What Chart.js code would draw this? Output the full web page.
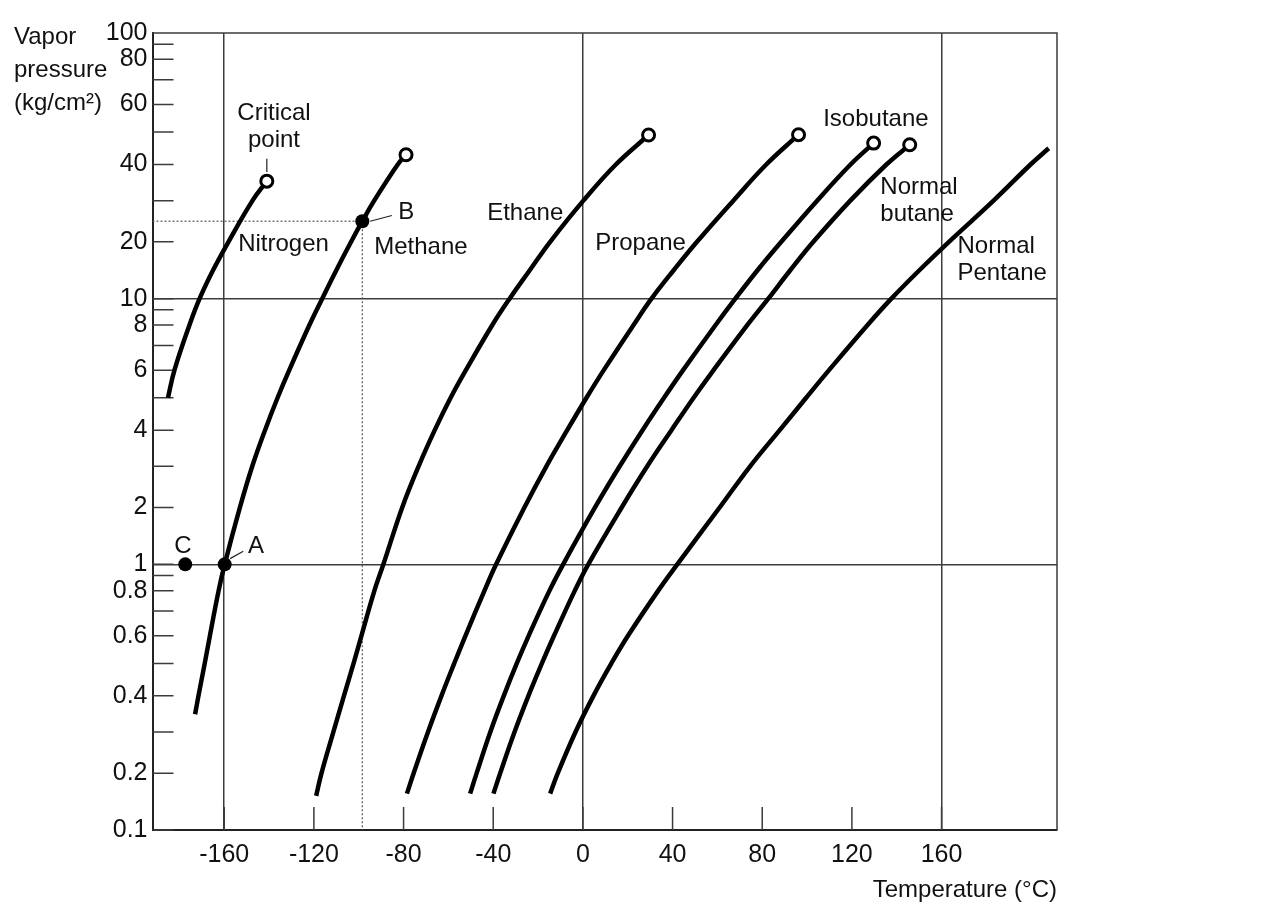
<!DOCTYPE html>
<html>
<head>
<meta charset="utf-8">
<title>Vapor pressure of light hydrocarbons</title>
<script src="https://cdn.jsdelivr.net/npm/chart.js@4.4.1/dist/chart.umd.min.js"></script>
<style>
  html, body { margin: 0; padding: 0; background: #fff; }
  #wrap { width: 1280px; height: 914px; }
</style>
</head>
<body>
<div id="wrap"><canvas id="chart" width="1280" height="914"></canvas></div>
<script>
// Axis ranges and ticks
const tempMin = -192, tempMax = 211.5;
const presMin = 0.1, presMax = 100;
const tempTicks = [-160, -120, -80, -40, 0, 40, 80, 120, 160];
const tempGrid = [-160, 0, 160];
const presLabels = [0.1, 0.2, 0.4, 0.6, 0.8, 1, 2, 4, 6, 8, 10, 20, 40, 60, 80, 100];
const presGrid = [1, 10];

// Vapor pressure curves: temperature (°C) / pressure (kg/cm2)
const nitrogenTemp = [-185.1, -182.2, -175.5, -171.0, -165.0, -158.1, -147.4, -141.0];
const nitrogenPres = [5, 6, 8, 10, 15, 20, 30, 35.4];

const methaneTemp = [-173.0, -171.5, -168.7, -166.4, -162.5, -159.8, -153.0, -147.5, -141.8, -136.2, -131.0, -122.0, -116.3, -110.0, -103.4, -98.4, -93.1, -82.6, -78.9];
const methanePres = [0.349, 0.4, 0.5, 0.6, 0.8, 1, 2, 3, 4, 5, 6, 8, 10, 15, 20, 25, 30, 40, 43];

const ethaneTemp = [-119.0, -116.6, -111.3, -106.6, -102.3, -98.8, -93.0, -89.0, -80.6, -73.3, -66.1, -59.0, -52.2, -40.4, -32.7, -23.7, -14.6, 0.2, 14.7, 29.3];
const ethanePres = [0.16, 0.2, 0.3, 0.4, 0.5, 0.6, 0.8, 1, 2, 3, 4, 5, 6, 8, 10, 15, 20, 30, 40, 49.1];

const propaneTemp = [-78.5, -75.5, -69.1, -63.1, -57.4, -52.4, -43.9, -38.7, -26.1, -16.3, -7.0, 1.6, 9.3, 22.6, 30.6, 40.5, 50.9, 67.1, 81.8, 96.2];
const propanePres = [0.164, 0.2, 0.3, 0.4, 0.5, 0.6, 0.8, 1, 2, 3, 4, 5, 6, 8, 10, 15, 20, 30, 40, 49.2];

const isobutaneTemp = [-50.3, -47.4, -41.3, -35.3, -29.5, -24.2, -14.9, -8.8, 5.4, 16.4, 26.6, 36.2, 44.7, 59.2, 68.0, 77.9, 88.5, 104.5, 119.4, 129.7];
const isobutanePres = [0.164, 0.2, 0.3, 0.4, 0.5, 0.6, 0.8, 1, 2, 3, 4, 5, 6, 8, 10, 15, 20, 30, 40, 46.6];

const butaneTemp = [-39.9, -36.9, -30.5, -24.3, -18.3, -12.9, -3.6, 2.4, 17.3, 28.7, 39.5, 49.4, 58.3, 73.4, 82.7, 92.5, 102.8, 119.3, 135.4, 145.8];
const butanePres = [0.164, 0.2, 0.3, 0.4, 0.5, 0.6, 0.8, 1, 2, 3, 4, 5, 6, 8, 10, 15, 20, 30, 40, 46.1];

const pentaneTemp = [-14.6, -11.2, -3.3, 4.7, 12.7, 20.1, 33.6, 42.1, 61.0, 74.6, 87.8, 99.6, 109.8, 127.0, 137.6, 150.1, 163.3, 183.2, 199.7, 207.8];
const pentanePres = [0.164, 0.2, 0.3, 0.4, 0.5, 0.6, 0.8, 1, 2, 3, 4, 5, 6, 8, 10, 15, 20, 30, 40, 45];

// Marked points A, B, C
const pointNames = ['A', 'B', 'C'];
const pointTemp = [-159.8, -98.4, -177.4];
const pointPres = [1, 25, 1];

const curves = [
  { name: 'Nitrogen', temp: nitrogenTemp, pres: nitrogenPres, critical: true },
  { name: 'Methane', temp: methaneTemp, pres: methanePres, critical: true },
  { name: 'Ethane', temp: ethaneTemp, pres: ethanePres, critical: true },
  { name: 'Propane', temp: propaneTemp, pres: propanePres, critical: true },
  { name: 'Isobutane', temp: isobutaneTemp, pres: isobutanePres, critical: true },
  { name: 'Normal butane', temp: butaneTemp, pres: butanePres, critical: true },
  { name: 'Normal pentane', temp: pentaneTemp, pres: pentanePres, critical: false }
];

// Text placed on the chart (first line anchor, in data units)
const notes = [
  { lines: ['Critical', 'point'], temp: -137.8, pres: 56.8, align: 'center' },
  { lines: ['Nitrogen'], temp: -153.8, pres: 19.5, align: 'left' },
  { lines: ['Methane'], temp: -93.1, pres: 19.0, align: 'left' },
  { lines: ['Ethane'], temp: -42.7, pres: 26.8, align: 'left' },
  { lines: ['Propane'], temp: 5.5, pres: 19.7, align: 'left' },
  { lines: ['Isobutane'], temp: 107.2, pres: 54.6, align: 'left' },
  { lines: ['Normal', 'butane'], temp: 132.7, pres: 33.7, align: 'left' },
  { lines: ['Normal', 'Pentane'], temp: 167.1, pres: 19.2, align: 'left' },
  { lines: [pointNames[0]], temp: -149.4, pres: 1.31, align: 'left' },
  { lines: [pointNames[1]], temp: -82.4, pres: 27.1, align: 'left' },
  { lines: [pointNames[2]], temp: -178.4, pres: 1.31, align: 'center' }
];
const leaders = [
  { t1: -141.0, p1: 41.8, t2: -141.0, p2: 37.9 },
  { t1: -157.4, p1: 1.10, t2: -151.5, p2: 1.23 },
  { t1: -94.9, p1: 25.0, t2: -85.2, p2: 26.4 }
];

const FONT = "'Liberation Sans', Arial, sans-serif";
const INK = '#111';
const RULE = '#3c3c3c';

// The pressure axis of the original is a stylised log scale:
// every decade is split with the same uneven spacing.
const MANT = [1, 2, 3, 4, 5, 6, 7, 8, 9, 10];
const FRAC = [0, 0.214, 0.369, 0.505, 0.627, 0.731, 0.824, 0.901, 0.958, 1];

function decadePos(v) {
  let e = Math.floor(Math.log10(v) + 1e-9);
  let m = v / Math.pow(10, e);
  if (m >= 10) { m /= 10; e += 1; }
  if (m < 1) m = 1;
  const i = Math.min(Math.floor(m) - 1, 8);
  return e + FRAC[i] + (m - MANT[i]) * (FRAC[i + 1] - FRAC[i]);
}
function decadeValue(p) {
  const e = Math.floor(p);
  const f = p - e;
  let i = 0;
  while (i < 8 && FRAC[i + 1] < f) i++;
  const m = MANT[i] + (f - FRAC[i]) / (FRAC[i + 1] - FRAC[i]);
  return m * Math.pow(10, e);
}

class PressureScale extends Chart.Scale {
  determineDataLimits() {
    this.min = this.options.min;
    this.max = this.options.max;
  }
  buildTicks() {
    const ticks = [];
    for (let e = -1; e <= 1; e++) {
      for (let m = 1; m <= 9; m++) {
        ticks.push({ value: parseFloat((m * Math.pow(10, e)).toPrecision(3)) });
      }
    }
    ticks.push({ value: 100 });
    return ticks;
  }
  getLabelForValue(v) { return String(v); }
  configure() {
    super.configure();
    this._p0 = decadePos(this.min);
    this._p1 = decadePos(this.max);
  }
  getPixelForValue(v) {
    if (v === null || v === undefined || isNaN(v) || v <= 0) return NaN;
    return this.getPixelForDecimal((decadePos(v) - this._p0) / (this._p1 - this._p0));
  }
  getValueForPixel(px) {
    return decadeValue(this._p0 + this.getDecimalForPixel(px) * (this._p1 - this._p0));
  }
}
PressureScale.id = 'pressure';
PressureScale.defaults = {};
Chart.register(PressureScale);

// Build datasets
const datasets = [];

datasets.push({
  data: pointTemp.map((t, i) => ({ x: t, y: pointPres[i] })),
  showLine: false,
  pointRadius: 7,
  pointBackgroundColor: '#000',
  pointBorderColor: '#000',
  pointBorderWidth: 0,
  order: 0
});

curves.forEach(c => {
  const last = c.temp.length - 1;
  datasets.push({
    label: c.name,
    data: c.temp.map((t, i) => ({ x: t, y: c.pres[i] })),
    borderColor: '#000',
    borderWidth: 4.5,
    tension: 0.4,
    pointRadius: ctx => (c.critical && ctx.dataIndex === last ? 6 : 0),
    pointBackgroundColor: '#fff',
    pointBorderColor: '#000',
    pointBorderWidth: 3,
    order: 1
  });
});

// dotted guides from point B to both axes
const bTemp = pointTemp[1], bPres = pointPres[1];
const guide = {
  borderColor: '#555',
  borderWidth: 1.2,
  borderDash: [2, 2],
  pointRadius: 0,
  order: 2
};
datasets.push(Object.assign({ data: [{ x: tempMin, y: bPres }, { x: bTemp, y: bPres }] }, guide));
datasets.push(Object.assign({ data: [{ x: bTemp, y: bPres }, { x: bTemp, y: presMin }] }, guide));

const decorations = {
  id: 'decorations',
  beforeDatasetsDraw(chart) {
    const { ctx, chartArea: a, scales: { x, y } } = chart;
    ctx.save();
    ctx.strokeStyle = RULE;
    ctx.lineWidth = 1.5;
    ctx.beginPath();
    ctx.moveTo(a.left, a.top);
    ctx.lineTo(a.right, a.top);
    ctx.lineTo(a.right, a.bottom);
    y.ticks.forEach(t => {
      const py = y.getPixelForValue(t.value);
      ctx.moveTo(a.left, py);
      ctx.lineTo(a.left + 21, py);
    });
    x.ticks.forEach(t => {
      const px = x.getPixelForValue(t.value);
      ctx.moveTo(px, a.bottom);
      ctx.lineTo(px, a.bottom - 23);
    });
    ctx.stroke();
    ctx.restore();
  },
  afterDatasetsDraw(chart) {
    const { ctx, scales: { x, y } } = chart;
    ctx.save();
    ctx.strokeStyle = '#222';
    ctx.lineWidth = 1.2;
    ctx.beginPath();
    leaders.forEach(l => {
      ctx.moveTo(x.getPixelForValue(l.t1), y.getPixelForValue(l.p1));
      ctx.lineTo(x.getPixelForValue(l.t2), y.getPixelForValue(l.p2));
    });
    ctx.stroke();

    ctx.fillStyle = INK;
    ctx.font = '24px ' + FONT;
    ctx.textBaseline = 'middle';
    notes.forEach(n => {
      ctx.textAlign = n.align;
      const px = x.getPixelForValue(n.temp);
      const py = y.getPixelForValue(n.pres);
      n.lines.forEach((s, i) => ctx.fillText(s, px, py + i * 27));
    });

    // pressure axis title, upper left
    ctx.textAlign = 'left';
    ['Vapor', 'pressure', '(kg/cm²)'].forEach((s, i) => ctx.fillText(s, 14, 37 + i * 33));
    ctx.restore();
  }
};

new Chart(document.getElementById('chart'), {
  type: 'line',
  data: { datasets },
  plugins: [decorations],
  options: {
    responsive: false,
    animation: false,
    events: [],
    layout: { padding: { top: 33, right: 223, bottom: 0, left: 0 } },
    plugins: { legend: { display: false }, tooltip: { enabled: false } },
    scales: {
      x: {
        type: 'linear',
        min: tempMin,
        max: tempMax,
        afterBuildTicks: s => { s.ticks = tempTicks.map(v => ({ value: v })); },
        afterFit: s => { s.height = 84; },
        grid: {
          drawTicks: false,
          lineWidth: 1.5,
          color: ctx => (ctx.tick && tempGrid.includes(ctx.tick.value) ? RULE : 'rgba(0,0,0,0)')
        },
        border: { color: '#222', width: 2 },
        ticks: {
          color: INK,
          font: { size: 25, family: FONT },
          padding: 10,
          maxRotation: 0,
          autoSkip: false
        },
        title: {
          display: true,
          text: 'Temperature (°C)',
          align: 'end',
          color: INK,
          font: { size: 24, family: FONT },
          padding: { top: 0, bottom: 9 }
        }
      },
      y: {
        type: 'pressure',
        min: presMin,
        max: presMax,
        afterFit: s => { s.width = 152.5; },
        grid: {
          drawTicks: false,
          lineWidth: 1.5,
          color: ctx => (ctx.tick && presGrid.includes(ctx.tick.value) ? RULE : 'rgba(0,0,0,0)')
        },
        border: { color: '#222', width: 2 },
        ticks: {
          color: INK,
          font: { size: 25, family: FONT },
          padding: 5,
          autoSkip: false,
          callback: v => (presLabels.includes(v) ? String(v) : '')
        }
      }
    }
  }
});
</script>
</body>
</html>
